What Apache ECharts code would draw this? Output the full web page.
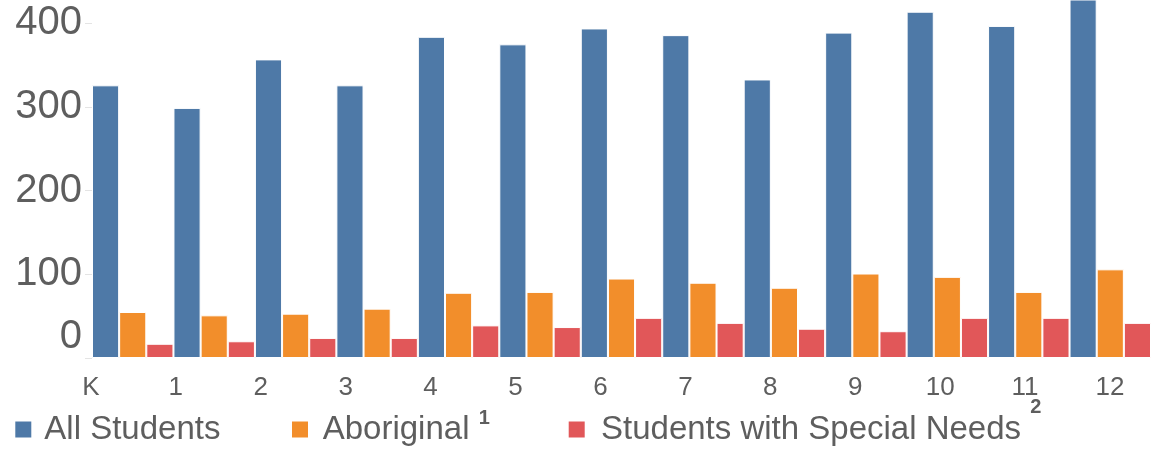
<!DOCTYPE html>
<html>
<head>
<meta charset="utf-8">
<script src="https://cdn.jsdelivr.net/npm/echarts@6/dist/echarts.min.js"></script>
<style>
  html, body { margin: 0; padding: 0; background: #fff; }
  #chart { width: 1151px; height: 449px; }
</style>
</head>
<body>
<div id="chart"></div>
<script>
// Enrolment by grade
const grades = ['K', '1', '2', '3', '4', '5', '6', '7', '8', '9', '10', '11', '12'];
const allStudents = [326, 299, 357, 326, 384, 375, 394, 386, 333, 389, 414, 397, 445];
const aboriginal = [55, 51, 53, 59, 78, 79, 95, 90, 84, 101, 97, 79, 106];
const specialNeeds = [17, 20, 24, 24, 39, 37, 48, 42, 35, 32, 48, 48, 42];
const yTicks = [0, 100, 200, 300, 400];

const FONT = "'Liberation Sans', Arial, sans-serif";
const GREY = '#5e5e5e';
const COLORS = ['#4e79a7', '#f28e2b', '#e15759'];

const chart = echarts.init(document.getElementById('chart'), null, { renderer: 'canvas' });

function legendBox(name, left, top, padLeft, supText, supLift) {
  const base = { fontSize: 33, color: GREY, fontFamily: FONT, padding: [0, 0, 0, padLeft] };
  const leg = {
    data: [name],
    left: left,
    top: top,
    padding: 0,
    itemWidth: 18,
    itemHeight: 18,
    icon: 'rect',
    selectedMode: false,
    textStyle: base
  };
  if (supText) {
    leg.formatter = n => n + ' {sup|' + supText + '}';
    leg.textStyle = Object.assign({}, base, {
      rich: {
        sup: {
          fontSize: 20, fontWeight: 'bold', color: GREY, fontFamily: FONT,
          padding: [0, 0, supLift * 2, 0]
        }
      }
    });
  }
  return leg;
}

const option = {
  animation: false,
  backgroundColor: '#fff',
  textStyle: { fontFamily: FONT },
  grid: [
    { left: 92, right: 0, top: 0, bottom: 91, containLabel: false },
    { left: 90.9, right: 41, top: 0, bottom: 91, containLabel: false }
  ],
  legend: [
    legendBox('All Students', 13.3, 413, 7),
    legendBox('Aboriginal', 290, 408.5, 8.7, '1', 11),
    legendBox('Students with Special Needs', 566.7, 397.5, 10.3, '2', 22)
  ],
  xAxis: [
    {
      type: 'category', gridIndex: 0, data: grades,
      axisLine: { show: false }, axisTick: { show: false }, axisLabel: { show: false }
    },
    {
      type: 'category', gridIndex: 1, data: grades, boundaryGap: false,
      axisLine: { show: false }, axisTick: { show: false },
      axisLabel: { fontSize: 26, color: GREY, fontFamily: FONT, margin: 17, interval: 0 }
    }
  ],
  yAxis: [
    {
      type: 'value', gridIndex: 0, min: 0, max: 428, interval: 100,
      splitLine: { show: false },
      axisLine: { show: false },
      axisTick: { show: true, length: 7, lineStyle: { color: '#e4e4e4', width: 1 } },
      axisLabel: {
        showMaxLabel: false,
        fontSize: 40, color: GREY, fontFamily: FONT, margin: 10,
        formatter: v => (yTicks.indexOf(v) === -1 ? '' : (v === 0 ? '{z|0}' : String(v))),
        rich: {
          z: { fontSize: 40, color: GREY, fontFamily: FONT, padding: [0, 0, 42, 0] }
        }
      }
    },
    { type: 'value', gridIndex: 1, show: false, min: 0, max: 428 }
  ],
  series: [
    { name: 'All Students', data: allStudents, color: COLORS[0] },
    { name: 'Aboriginal', data: aboriginal, color: COLORS[1] },
    { name: 'Students with Special Needs', data: specialNeeds, color: COLORS[2] }
  ].map(s => ({
    name: s.name,
    type: 'bar',
    xAxisIndex: 0,
    yAxisIndex: 0,
    data: s.data,
    barGap: '0%',
    barCategoryGap: '0%',
    itemStyle: { color: s.color, borderColor: '#ffffff', borderWidth: 1 }
  }))
};

chart.setOption(option);
</script>
</body>
</html>
